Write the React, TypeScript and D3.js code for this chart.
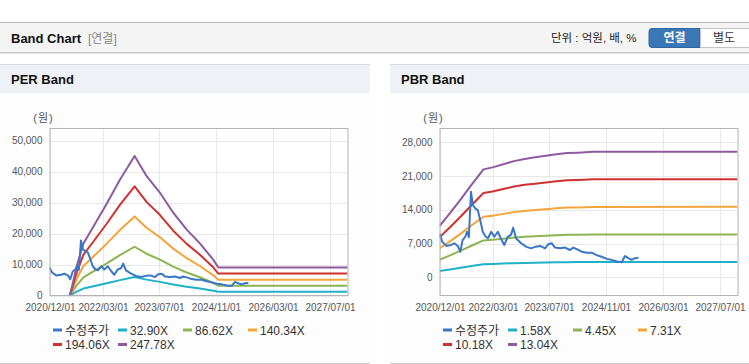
import React from 'react';
import * as d3 from 'd3';

// adjusted share price (수정주가), shared by both bands
const priceDates = [
  '2020-12-01', '2020-12-24', '2021-01-28', '2021-03-10', '2021-04-07', '2021-05-07', '2021-05-28',
  '2021-06-18', '2021-07-10', '2021-07-25', '2021-08-10', '2021-08-28', '2021-09-13', '2021-10-04',
  '2021-10-25', '2021-11-15', '2021-12-07', '2022-01-01', '2022-01-20', '2022-02-18', '2022-03-16',
  '2022-04-15', '2022-05-12', '2022-06-10', '2022-07-09', '2022-08-06', '2022-08-25', '2022-09-18',
  '2022-11-01', '2022-12-13', '2023-01-25', '2023-03-07', '2023-04-13', '2023-05-25', '2023-06-22',
  '2023-07-22', '2023-08-19', '2023-10-01', '2023-11-13', '2023-12-25', '2024-01-22', '2024-02-21',
  '2024-04-03', '2024-05-16', '2024-06-28', '2024-08-10', '2024-09-22', '2024-11-06', '2024-12-18',
  '2025-02-01', '2025-03-13', '2025-04-10', '2025-05-08', '2025-06-06', '2025-07-04', '2025-08-03',
];
const priceValues = [
  9100, 7400, 6500, 6700, 7050, 6500, 5300,
  7750, 8400, 9450, 8300, 17750, 15000, 14300,
  13950, 11900, 9450, 8400, 8100, 9450, 8400,
  9450, 8000, 6700, 8400, 8800, 10300, 8100,
  7050, 6350, 6000, 6350, 6500, 6000, 6850,
  7050, 6150, 6000, 6150, 5650, 6150, 5850,
  5300, 5100, 5100, 4600, 4250, 3800, 3600,
  3250, 3100, 4400, 3950, 3600, 3950, 4050,
];

// EPS used for the PER band
const epsDates = [
  '2021-05-25', '2021-07-22', '2021-09-18', '2021-12-13', '2022-04-07', '2022-07-28', '2022-12-01',
  '2023-03-13', '2023-07-07', '2023-10-28', '2024-02-21', '2024-06-13', '2024-10-07', '2024-11-18',
  '2027-12-01',
];
const epsValues = [0, 38, 68, 90, 120, 151, 182, 156, 134, 108, 86, 68, 46.5, 36.5, 36.5];
const perMultiples = [32.9, 86.62, 140.34, 194.06, 247.78];

// BPS used for the PBR band
const bpsDates = [
  '2020-12-01', '2021-03-01', '2021-06-01', '2021-09-01', '2021-12-13', '2022-03-01', '2022-06-01',
  '2022-09-01', '2022-12-01', '2023-03-01', '2023-06-01', '2023-09-01', '2023-12-01', '2024-03-01',
  '2024-07-15', '2027-12-01',
];
const bpsValues = [815, 1020, 1240, 1470, 1718, 1750, 1800, 1850, 1885, 1910, 1935, 1960, 1980, 1985, 1998, 2000];
const pbrMultiples = [1.58, 4.45, 7.31, 10.18, 13.04];

const xTickLabels = ['2020/12/01', '2022/03/01', '2023/07/01', '2024/11/01', '2026/03/01', '2027/07/01'];
const xDomain = ['2020/12/01', '2027/12/01'];
const perYTicks = [0, 10000, 20000, 30000, 40000, 50000];
const pbrYTicks = [0, 7000, 14000, 21000, 28000];

const priceColor = '#3a76c8';
const bandColors = ['#1fb1c7', '#8cb551', '#f4a53a', '#cf322e', '#8f599f'];

const parseIso = d3.timeParse('%Y-%m-%d');
const parseSlash = d3.timeParse('%Y/%m/%d');
const FONT = '"Liberation Sans", Arial, "Noto Sans CJK KR", sans-serif';

type Pt = { d: Date; v: number };

type BandProps = {
  id: string;
  title: string;
  panelX: number;
  panelW: number;
  plotLeft: number;
  yDomain: [number, number];
  yTicks: number[];
  base: Pt[];
  multiples: number[];
};

const BandPanel: React.FC<BandProps> = ({ id, title, panelX, panelW, plotLeft, yDomain, yTicks, base, multiples }) => {
  const plotW = 298;
  const top = 128.5;
  const bottom = 295.5;

  const x = d3.scaleTime()
    .domain(xDomain.map(s => parseSlash(s) as Date))
    .range([plotLeft, plotLeft + plotW]);
  const y = d3.scaleLinear().domain(yDomain).range([bottom, top]);

  const line = d3.line<Pt>().x(p => x(p.d)).y(p => y(p.v));
  const price: Pt[] = priceDates.map((s, i) => ({ d: parseIso(s) as Date, v: priceValues[i] }));
  const bands = multiples.map(m => base.map(p => ({ d: p.d, v: p.v * m })));

  const legend = [
    { label: '수정주가', color: priceColor },
    ...multiples.map((m, i) => ({ label: `${m.toFixed(2)}X`, color: bandColors[i] })),
  ];

  return (
    <g>
      <rect x={panelX} y={64} width={panelW} height={299} fill="#fdfdfd" />
      <rect x={panelX} y={64} width={panelW} height={29} fill="#eef2f7" />
      <line x1={panelX} x2={panelX + panelW} y1={64.5} y2={64.5} stroke="#d8d8d8" />
      <line x1={panelX} x2={panelX + panelW} y1={363.5} y2={363.5} stroke="#cfcfcf" />
      <text x={panelX + 11} y={84} fontSize={13} fontWeight="bold" fill="#111">{title}</text>

      <text x={plotLeft - 6} y={122} fontSize={11} fill="#555" textAnchor="middle" letterSpacing={1}>(원)</text>

      <clipPath id={`clip-${id}`}>
        <rect x={plotLeft} y={top} width={plotW} height={bottom - top} />
      </clipPath>
      <rect x={plotLeft} y={top} width={plotW} height={bottom - top} fill="#fff" />

      {yTicks.map(t => (
        <g key={t}>
          <line x1={plotLeft} x2={plotLeft + plotW} y1={Math.round(y(t)) + 0.5} y2={Math.round(y(t)) + 0.5} stroke="#e8e8e8" />
          <text x={plotLeft - 7} y={y(t) + 3.5} fontSize={10} fill="#555" textAnchor="end">{d3.format(',')(t)}</text>
        </g>
      ))}
      {xTickLabels.map(s => {
        const px = Math.round(x(parseSlash(s) as Date)) + 0.5;
        return (
          <g key={s}>
            <line x1={px} x2={px} y1={top} y2={bottom} stroke="#e8e8e8" />
            <text x={px} y={311} fontSize={10} fill="#555" textAnchor="middle">{s}</text>
          </g>
        );
      })}

      <g clipPath={`url(#clip-${id})`} fill="none" strokeWidth={2} strokeLinejoin="round">
        {bands.map((b, i) => (
          <path key={i} d={line(b) || ''} stroke={bandColors[i]} />
        ))}
        <path d={line(price) || ''} stroke={priceColor} />
      </g>
      <rect x={plotLeft + 0.5} y={top} width={plotW} height={bottom - top} fill="none" stroke="#b4b4b4" />

      {legend.map((l, i) => {
        const lx = plotLeft + 3.5 + (i % 4) * 65;
        const ly = i < 4 ? 330 : 344.5;
        return (
          <g key={l.label}>
            <line x1={lx} x2={lx + 9} y1={ly} y2={ly} stroke={l.color} strokeWidth={3} />
            <text x={lx + 12} y={ly + 4.5} fontSize={12} fill="#333">{l.label}</text>
          </g>
        );
      })}
    </g>
  );
};

export default function App() {
  const eps: Pt[] = epsDates.map((s, i) => ({ d: parseIso(s) as Date, v: epsValues[i] }));
  const bps: Pt[] = bpsDates.map((s, i) => ({ d: parseIso(s) as Date, v: bpsValues[i] }));

  return (
    <svg width={749} height={364} style={{ position: 'absolute', left: 0, top: 0, fontFamily: FONT }}>
      <rect width={749} height={364} fill="#fff" />

      {/* header bar */}
      <rect x={0} y={22} width={749} height={31} fill="#f4f4f4" />
      <line x1={0} x2={749} y1={22.5} y2={22.5} stroke="#b8b8b8" />
      <line x1={0} x2={749} y1={52.5} y2={52.5} stroke="#c8c8c8" />
      <line x1={0} x2={749} y1={53.5} y2={53.5} stroke="#e6e6e6" />
      <text x={11} y={43} fontSize={13} fontWeight="bold" fill="#111">Band Chart</text>
      <text x={88} y={43} fontSize={12} fill="#888">[연결]</text>
      <text x={551} y={42} fontSize={11.5} fill="#222">단위 : 억원, 배, %</text>
      <path d="M700,28.5 H652 a3,3 0 0 0 -3,3 V44.5 a3,3 0 0 0 3,3 H700 Z" fill="#3a77b7" stroke="#2f67a3" />
      <text x={674.5} y={42} fontSize={12} fontWeight="bold" fill="#fff" textAnchor="middle">연결</text>
      <rect x={700.5} y={28.5} width={50} height={19} fill="#fff" stroke="#c4c4c4" />
      <text x={724} y={42} fontSize={12} fill="#333" textAnchor="middle">별도</text>

      <BandPanel id="per" title="PER Band" panelX={0} panelW={370} plotLeft={49.5}
        yDomain={[0, 54000]} yTicks={perYTicks} base={eps} multiples={perMultiples} />
      <BandPanel id="pbr" title="PBR Band" panelX={390} panelW={359} plotLeft={439.5}
        yDomain={[-3800, 30900]} yTicks={pbrYTicks} base={bps} multiples={pbrMultiples} />
    </svg>
  );
}
